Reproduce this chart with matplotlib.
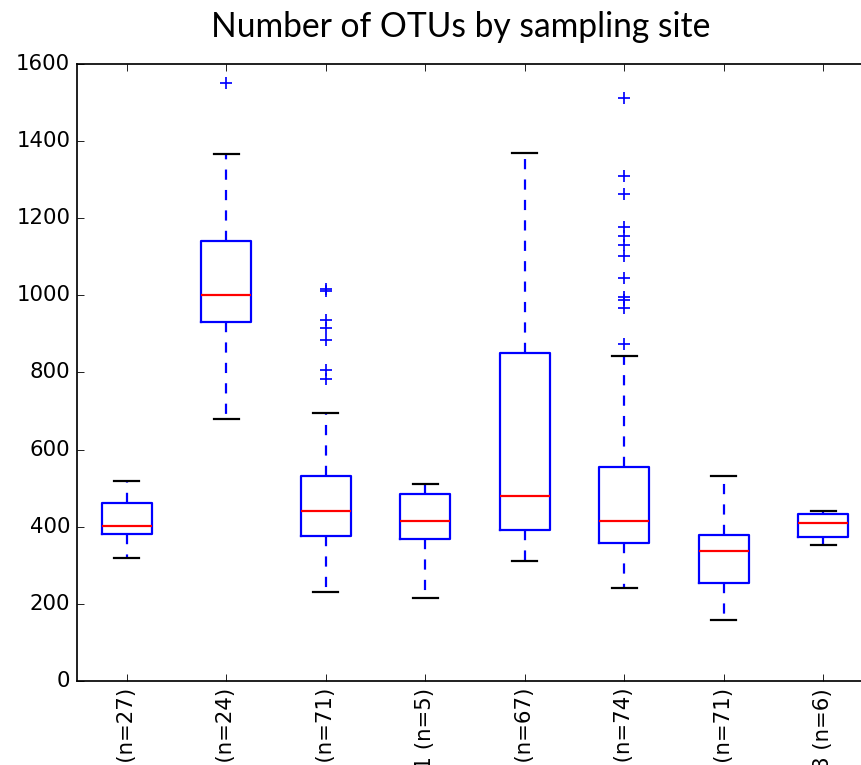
#!/usr/bin/env python3
# -*- coding: utf-8 -*-
"""
Box plot of OTU counts per sampling site (classic matplotlib look).
"""

import matplotlib
matplotlib.use('Agg')
import matplotlib.pyplot as plt

# site labels as shown under the axis (only the tail is visible in the figure)
sites = ['Lake A', 'Lake B', 'River C', 'Pond 1', 'Marsh D', 'Estuary E', 'Creek F', 'Bay 8']
n_samples = [27, 24, 71, 5, 67, 74, 71, 6]

# box statistics
medians = [402, 1000, 442, 414, 479, 416, 338, 410]
q1s = [382, 931, 377, 369, 392, 359, 253, 374]
q3s = [462, 1140, 532, 484, 850, 555, 378, 434]
whis_lo = [318, 680, 231, 214, 312, 240, 158, 353]
whis_hi = [519, 1366, 694, 511, 1368, 843, 532, 441]
fliers = [
    [],
    [1550],
    [1016, 1012, 935, 916, 885, 806, 784],
    [],
    [],
    [1513, 1310, 1263, 1177, 1154, 1130, 1102, 1046, 995, 989, 968, 873],
    [],
    [],
]


def main():
    plt.style.use('classic')
    dpi = 122.5
    fig = plt.figure(figsize=(861 / dpi, 765 / dpi), dpi=dpi, facecolor='white')
    # axes runs past the right edge of the picture, as in the original crop
    ax = fig.add_axes([77 / 861, 84 / 765, 796 / 861, 617 / 765])

    stats = []
    for i in range(len(sites)):
        stats.append({
            'med': medians[i], 'q1': q1s[i], 'q3': q3s[i],
            'whislo': whis_lo[i], 'whishi': whis_hi[i],
            'fliers': fliers[i], 'label': f'{sites[i]} (n={n_samples[i]})',
        })

    ax.bxp(stats, widths=0.5,
           boxprops=dict(color='b', linewidth=1.3),
           whiskerprops=dict(color='b', linestyle='--', linewidth=1.3),
           capprops=dict(color='k', linewidth=1.3),
           medianprops=dict(color='r', linewidth=1.3),
           flierprops=dict(marker='+', markeredgecolor='b', markersize=7))

    ax.set_xlim(0.5, len(sites) + 0.5)
    ax.set_ylim(0, 1600)
    ax.set_yticks(range(0, 1601, 200))
    ax.tick_params(axis='both', labelsize=12.5)
    plt.setp(ax.get_xticklabels(), rotation=90)

    ax.set_title('Number of OTUs by sampling site', family='Lato', fontsize=19.8,
                 x=(461 - 77) / 796, pad=16)

    fig.savefig('out.png', dpi=dpi, facecolor='white')


if __name__ == '__main__':
    main()
